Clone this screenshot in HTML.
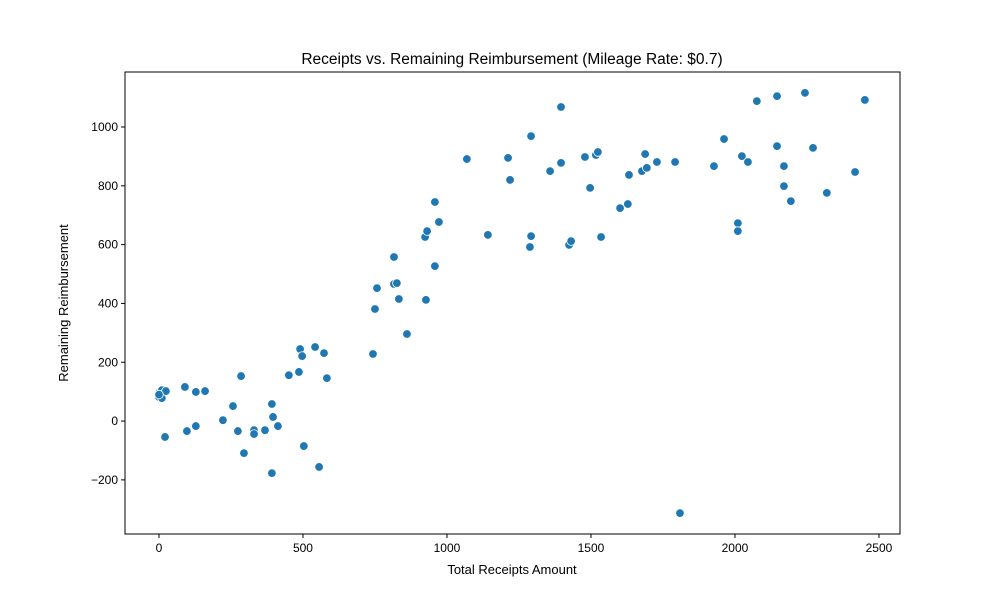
<!DOCTYPE html>
<html><head><meta charset="utf-8"><style>
body{margin:0;background:#fff;font-family:"Liberation Sans","DejaVu Sans",sans-serif}
svg text{font-family:"Liberation Sans","DejaVu Sans",sans-serif;fill:#000}
</style></head><body>
<svg id="chart" width="1000" height="600" xmlns="http://www.w3.org/2000/svg">
<rect width="1000" height="600" fill="#fff"/>
<text x="512" y="64" font-size="15.5" text-anchor="middle">Receipts vs. Remaining Reimbursement (Mileage Rate: $0.7)</text>
<text x="512" y="574" font-size="13" text-anchor="middle">Total Receipts Amount</text>
<text transform="translate(68,303) rotate(-90)" font-size="13" text-anchor="middle">Remaining Reimbursement</text>
<g id="axes"></g><g id="points"></g>
<rect x="125" y="72" width="775" height="462" fill="none" stroke="#000" stroke-width="1"/>
</svg>
<script>
const receipts=[0,3,10,10,24,21,0,90,97,128,128,160,222,257,274,285,295,330,330,368,392,396,413,392,451,486,490,497,503,542,556,573,583,743,750,757,816,816,826,833,861,924,931,927,958,958,972,1069,1142,1212,1219,1292,1292,1288,1358,1396,1396,1424,1431,1479,1497,1517,1524,1535,1601,1628,1632,1677,1688,1694,1729,1792,1809,1927,1962,2010,2010,2024,2045,2076,2146,2146,2170,2170,2194,2243,2271,2319,2417,2451];
const remaining=[82,99,105,78,102,-54,90,116,-34,99,-17,102,3,51,-34,153,-109,-31,-44,-31,58,14,-17,-177,156,167,245,221,-85,252,-156,231,146,228,381,452,558,466,469,415,296,626,646,412,745,527,677,891,633,895,820,969,629,592,850,1068,878,599,612,898,793,905,915,626,724,738,837,850,908,861,881,881,-313,867,959,673,646,901,881,1088,1105,935,867,799,748,1116,929,776,847,1092];
const xTicks=[0,500,1000,1500,2000,2500];
const yTicks=[-200,0,200,400,600,800,1000];
const L=125,R=900,T=72,B=534;
const xMin=-118,xMax=2573,yMin=-384,yMax=1187;
const sx=v=>L+(v-xMin)/(xMax-xMin)*(R-L);
const sy=v=>B-(v-yMin)/(yMax-yMin)*(B-T);
const NS="http://www.w3.org/2000/svg";
const ax=document.getElementById('axes'),pg=document.getElementById('points');
function mk(t,a,p){const e=document.createElementNS(NS,t);for(const k in a)e.setAttribute(k,a[k]);p.appendChild(e);return e;}
xTicks.forEach(v=>{
 const l=mk('line',{x1:sx(v),x2:sx(v),y1:B,y2:B+4,stroke:'#000'},ax);
 
 
 const t=mk('text',{x:sx(v),y:B+18,'font-size':12,'text-anchor':'middle'},ax);t.textContent=v;
 
 
});
yTicks.forEach(v=>{
 const l=mk('line',{x1:L-4,x2:L,y1:sy(v),y2:sy(v),stroke:'#000'},ax);
 
 
 const t=mk('text',{x:L-7,y:sy(v)+4,'font-size':12,'text-anchor':'end'},ax);t.textContent=String(v).replace('-','\u2212');
 
 
});
receipts.forEach((v,i)=>{
 const c=mk('circle',{cx:sx(v),cy:sy(remaining[i]),r:4.3,fill:'#1f77b4',stroke:'#fff','stroke-width':0.8},pg);
 
 
});
</script>
</body></html>
